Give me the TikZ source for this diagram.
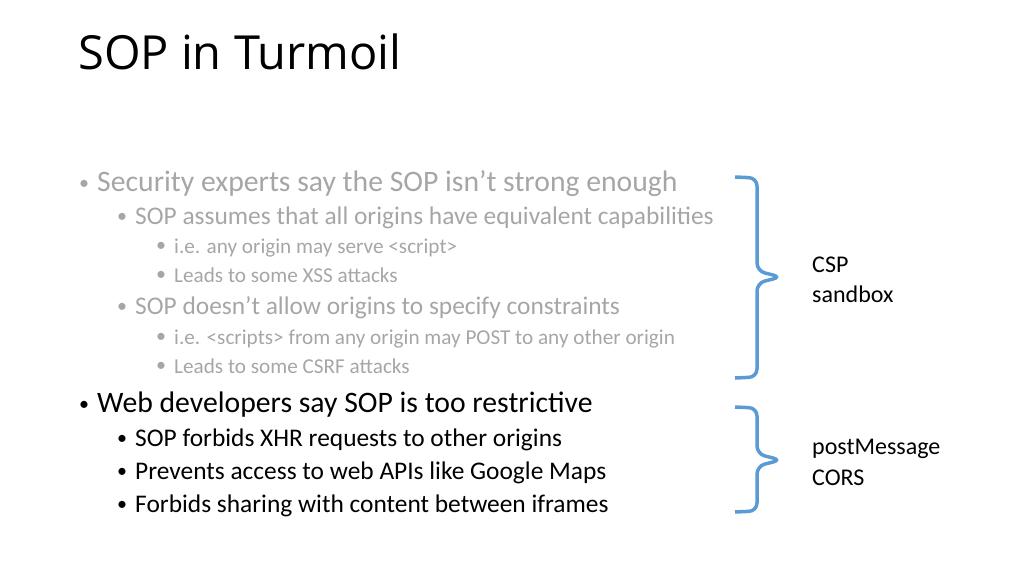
\documentclass[tikz,border=0pt]{standalone}
\usepackage{fontspec}
\setmainfont{Carlito}
\newfontfamily\titlefont{Open Sans}
\definecolor{dimgray}{HTML}{A6A6A6}
\definecolor{braceblue}{HTML}{5B9BD5}
\tikzstyle{title} = [anchor = base west, inner sep = 0pt, font = \titlefont\fontsize{47}{50}\selectfont]
\tikzstyle{lvla} = [anchor = base west, inner sep = 0pt, font = \fontsize{29.7}{32}\selectfont]
\tikzstyle{lvlb} = [anchor = base west, inner sep = 0pt, font = \fontsize{25.4}{28}\selectfont]
\tikzstyle{lvlc} = [anchor = base west, inner sep = 0pt, font = \fontsize{21.2}{24}\selectfont]
\tikzstyle{dot} = [anchor = base west, inner sep = 0pt, font = \fontsize{20}{24}\selectfont]
\tikzstyle{side} = [anchor = base west, inner sep = 0pt, font = \fontsize{24}{28}\selectfont]
\tikzstyle{bracket} = [draw = braceblue, line width = 3.5pt, rounded corners = 8pt]
\begin{document}
\begin{tikzpicture}[x = 1pt, y = -1pt]
  \useasboundingbox (0,0) rectangle (1024,575);
  \node (title) [title] at (78,70) {SOP in Turmoil};

  % grey part
  \begin{scope}[color = dimgray]
    \node (a1) [lvla] at (97,191) {Security experts say the SOP isn’t strong enough};
    \node (b1) [lvlb] at (135,224) {SOP assumes that all origins have equivalent capabilities};
    \node (c1) [lvlc] at (174,253) {i.e. any origin may serve <script>};
    \node (c2) [lvlc] at (174,282) {Leads to some XSS attacks};
    \node (b2) [lvlb] at (135,314) {SOP doesn’t allow origins to specify constraints};
    \node (c3) [lvlc] at (174,344) {i.e. <scripts> from any origin may POST to any other origin};
    \node (c4) [lvlc] at (174,373) {Leads to some CSRF attacks};
    \foreach \nm/\x/\y in {a1/79/189, b1/117/222, c1/156/251, c2/156/280,
                          b2/117/312, c3/156/342, c4/156/371}
      \node (dot-\nm) [dot] at (\x,\y) {•};
  \end{scope}

  % black part
  \node (a2) [lvla] at (97,412) {Web developers say SOP is too restrictive};
  \node (b3) [lvlb] at (135,446) {SOP forbids XHR requests to other origins};
  \node (b4) [lvlb] at (135,479) {Prevents access to web APIs like Google Maps};
  \node (b5) [lvlb] at (135,512) {Forbids sharing with content between iframes};
  \foreach \nm/\x/\y in {a2/79/410, b3/117/444, b4/117/477, b5/117/510}
    \node (dot-\nm) [dot] at (\x,\y) {•};

  % braces
  \draw [bracket] (735,177) -- (757,178) -- (757,271) -- (781,277)
    -- (757,283) -- (757,377) -- (735,378);
  \draw [bracket] (735,407) -- (757,408) -- (757,454) -- (781,460)
    -- (757,466) -- (757,511) -- (735,512);

  \node (csp) [side] at (812,272) {CSP};
  \node (sandbox) [side] at (812,302) {sandbox};
  \node (postmsg) [side] at (812,454) {postMessage};
  \node (cors) [side] at (812,485) {CORS};
\end{tikzpicture}
\end{document}
